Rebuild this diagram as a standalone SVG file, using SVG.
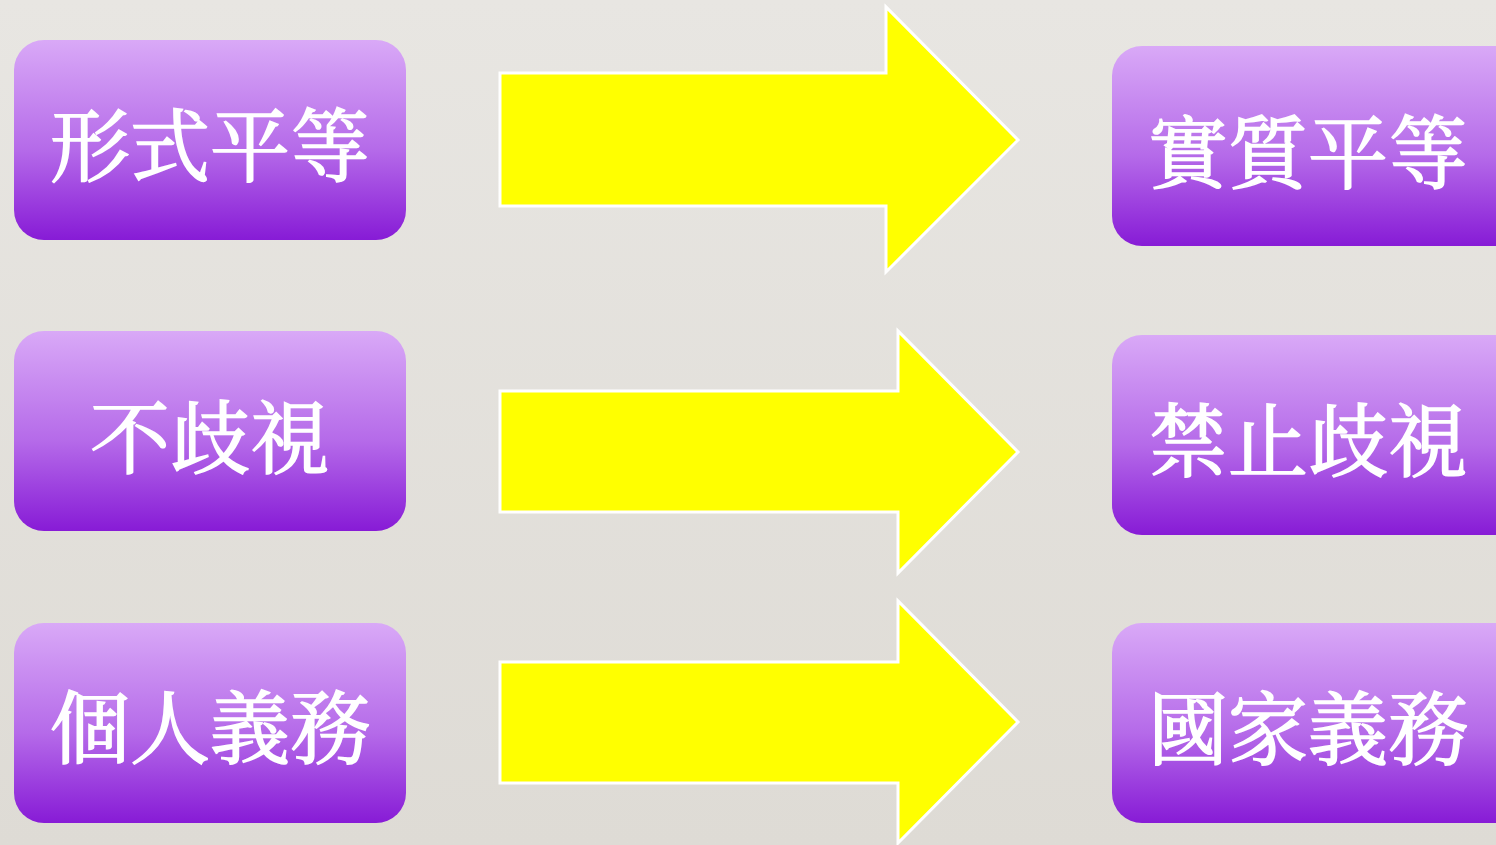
<svg xmlns="http://www.w3.org/2000/svg" width="1496" height="845" viewBox="0 0 1496 845">
<defs>
<linearGradient id="bg" x1="0" y1="0" x2="0" y2="1">
<stop offset="0" stop-color="#e8e6e2"/>
<stop offset="1" stop-color="#dedbd5"/>
</linearGradient>
<linearGradient id="box" x1="0" y1="0" x2="0" y2="1">
<stop offset="0" stop-color="#d9a9f7"/>
<stop offset="0.55" stop-color="#b56ae9"/>
<stop offset="1" stop-color="#871bd6"/>
</linearGradient>
</defs>
<style>
.box{fill:url(#box);}
.lbl{font-family:"Noto Serif CJK TC","Noto Sans CJK TC",serif;font-size:80px;font-weight:400;fill:#ffffff;stroke:#ffffff;stroke-width:1.6px;text-anchor:middle;dominant-baseline:central;}
.arr{fill:#ffff00;stroke:#ffffff;stroke-width:3;}
</style>
<rect width="1496" height="845" fill="url(#bg)"/>
<g id="n1"><rect class="box" x="14" y="40" width="392" height="200" rx="30"/><text class="lbl" x="210" y="140">形式平等</text></g>
<g id="n2"><rect class="box" x="14" y="331" width="392" height="200" rx="30"/><text class="lbl" x="210" y="432">不歧視</text></g>
<g id="n3"><rect class="box" x="14" y="623" width="392" height="200" rx="30"/><text class="lbl" x="210" y="722">個人義務</text></g>
<g id="n4"><rect class="box" x="1112" y="46" width="420" height="200" rx="30"/><text class="lbl" x="1308" y="147">實質平等</text></g>
<g id="n5"><rect class="box" x="1112" y="335" width="420" height="200" rx="30"/><text class="lbl" x="1308" y="435">禁止歧視</text></g>
<g id="n6"><rect class="box" x="1112" y="623" width="420" height="200" rx="30"/><text class="lbl" x="1308" y="723">國家義務</text></g>
<g id="connectors">
<polygon class="arr" points="500,73 886,73 886,7 1018,140 886,272 886,206 500,206"/>
<polygon class="arr" points="500,391 898,391 898,331 1018,452 898,573 898,512 500,512"/>
<polygon class="arr" points="500,662 898,662 898,601 1018,722 898,843 898,783 500,783"/>
</g>
</svg>
